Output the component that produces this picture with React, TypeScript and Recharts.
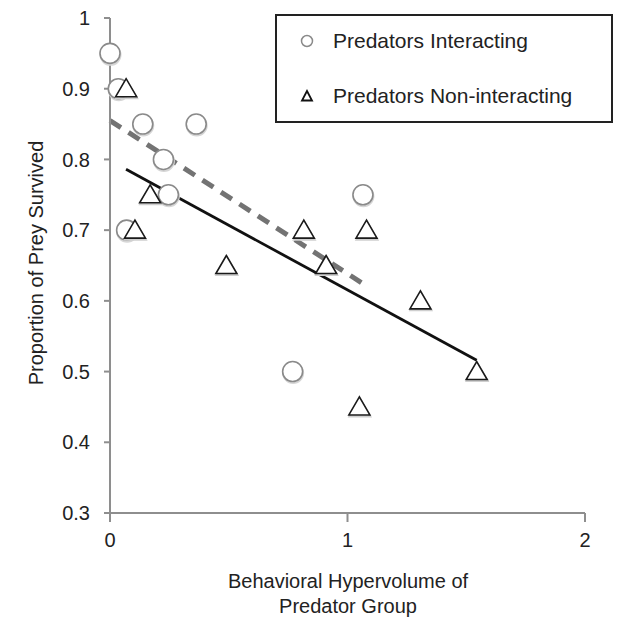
import { ScatterChart, Scatter, XAxis, YAxis, ReferenceLine } from 'recharts'

// values
const interactingX = [0, 0.035, 0.07, 0.138, 0.225, 0.246, 0.363, 0.769, 1.065]
const interactingY = [0.95, 0.9, 0.7, 0.85, 0.8, 0.75, 0.85, 0.5, 0.75]
const nonInteractingX = [0.068, 0.105, 0.169, 0.49, 0.816, 0.91, 1.05, 1.08, 1.307, 1.544]
const nonInteractingY = [0.9, 0.7, 0.75, 0.65, 0.7, 0.65, 0.45, 0.7, 0.6, 0.5]

// fitted trend lines (start, end)
const interactingFitX = [0, 1.076]
const interactingFitY = [0.855, 0.622]
const nonInteractingFitX = [0.0675, 1.544]
const nonInteractingFitY = [0.786, 0.516]

const xTicks = [0, 1, 2]
const yTicks = [0.3, 0.4, 0.5, 0.6, 0.7, 0.8, 0.9, 1]

const seriesNames = ['Predators Interacting', 'Predators Non-interacting']

const FONT = '"Liberation Sans", Arial, Helvetica, sans-serif'
const AXIS_GRAY = '#8e8e8e'

const interacting = interactingX.map((x, i) => ({ x, y: interactingY[i] }))
const nonInteracting = nonInteractingX.map((x, i) => ({ x, y: nonInteractingY[i] }))

const CircleMark = (props: any) => {
  const { cx, cy } = props
  return (
    <g>
      <circle cx={cx + 0.5} cy={cy + 1.5} r={10} fill="none" stroke="#d6d6d6" strokeWidth={2} />
      <circle cx={cx} cy={cy} r={10} fill="#fff" stroke="#8a8a8a" strokeWidth={1.6} />
    </g>
  )
}

const TriangleMark = (props: any) => {
  const { cx, cy } = props
  const pts = (dx: number, dy: number) =>
    `${cx + dx},${cy - 10 + dy} ${cx - 10.5 + dx},${cy + 8 + dy} ${cx + 10.5 + dx},${cy + 8 + dy}`
  return (
    <g>
      <polygon points={pts(0.5, 1.5)} fill="none" stroke="#cfcfcf" strokeWidth={2} />
      <polygon points={pts(0, 0)} fill="#fff" stroke="#1a1a1a" strokeWidth={1.6} strokeLinejoin="miter" />
    </g>
  )
}

const YLabel = () => (
  <text
    x={43}
    y={263}
    transform="rotate(-90 43 263)"
    textAnchor="middle"
    fontFamily={FONT}
    fontSize={20}
    fill="#222"
  >
    Proportion of Prey Survived
  </text>
)

const XLabel = () => (
  <text textAnchor="middle" fontFamily={FONT} fontSize={20} fill="#222">
    <tspan x={348} y={588}>Behavioral Hypervolume of</tspan>
    <tspan x={348} y={613}>Predator Group</tspan>
  </text>
)

function LegendBox() {
  return (
    <div
      style={{
        position: 'absolute',
        left: 275,
        top: 14,
        width: 334,
        height: 105,
        border: '2px solid #222',
        fontFamily: FONT,
        fontSize: 21,
        color: '#222',
        background: '#fff',
      }}
    >
      {seriesNames.map((name, i) => (
        <div
          key={name}
          style={{
            position: 'absolute',
            left: 0,
            top: i === 0 ? 11 : 66,
            height: 28,
            display: 'flex',
            alignItems: 'center',
            whiteSpace: 'nowrap',
          }}
        >
          <svg width={56} height={28}>
            {i === 0 ? (
              <circle cx={30} cy={14} r={5.5} fill="#fff" stroke="#8a8a8a" strokeWidth={1.5} />
            ) : (
              <polygon points="30,9 25,18.5 35,18.5" fill="#fff" stroke="#111" strokeWidth={1.8} />
            )}
          </svg>
          <span>{name}</span>
        </div>
      ))}
    </div>
  )
}

export default function App() {
  const fmtY = (v: number) => (v === 1 ? '1' : v.toFixed(1))
  return (
    <div style={{ position: 'absolute', left: 0, top: 0, width: 619, height: 621, background: '#fff' }}>
      <ScatterChart width={619} height={621} margin={{ top: 18, right: 34, bottom: 0, left: 0 }}>
        <XAxis
          type="number"
          dataKey="x"
          domain={[0, 2]}
          ticks={xTicks}
          interval={0}
          height={108}
          stroke={AXIS_GRAY}
          strokeWidth={2}
          tickSize={9}
          tickMargin={11}
          tick={{ fill: '#222', fontSize: 20, fontFamily: FONT }}
          tickLine={{ stroke: AXIS_GRAY, strokeWidth: 2 }}
          label={{ content: () => <XLabel /> }}
        />
        <YAxis
          type="number"
          dataKey="y"
          domain={[0.3, 1]}
          ticks={yTicks}
          interval={0}
          width={110}
          stroke={AXIS_GRAY}
          strokeWidth={2}
          tickSize={6}
          tickMargin={14}
          tickFormatter={fmtY}
          tick={{ fill: '#222', fontSize: 20, fontFamily: FONT }}
          tickLine={{ stroke: AXIS_GRAY, strokeWidth: 2 }}
          label={{ content: () => <YLabel /> }}
        />
        <Scatter
          name={seriesNames[0]}
          data={interacting}
          shape={CircleMark}
          isAnimationActive={false}
        />
        <Scatter
          name={seriesNames[1]}
          data={nonInteracting}
          shape={TriangleMark}
          isAnimationActive={false}
        />
        <ReferenceLine
          segment={[
            { x: interactingFitX[0], y: interactingFitY[0] },
            { x: interactingFitX[1], y: interactingFitY[1] },
          ]}
          stroke="#737373"
          strokeWidth={5}
          strokeDasharray="13 9"
        />
        <ReferenceLine
          segment={[
            { x: nonInteractingFitX[0], y: nonInteractingFitY[0] },
            { x: nonInteractingFitX[1], y: nonInteractingFitY[1] },
          ]}
          stroke="#111"
          strokeWidth={2.8}
        />
      </ScatterChart>
      <LegendBox />
    </div>
  )
}
